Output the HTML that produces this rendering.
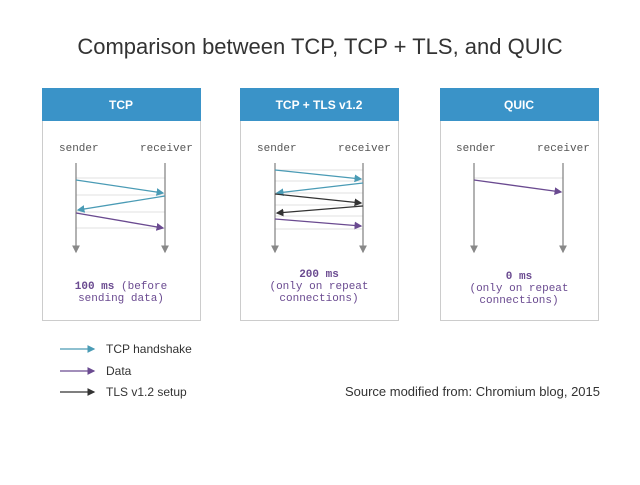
<!DOCTYPE html>
<html><head><style>body{margin:0;background:#fff}</style></head><body>
<svg width="640" height="480" xmlns="http://www.w3.org/2000/svg" font-family="Liberation Sans, sans-serif">
<defs>
<marker id="mt" markerWidth="6" markerHeight="6" refX="5" refY="3" orient="auto"><path d="M0,0L6,3L0,6z" fill="#4a9bb5"/></marker>
<marker id="mp" markerWidth="6" markerHeight="6" refX="5" refY="3" orient="auto"><path d="M0,0L6,3L0,6z" fill="#6a4a90"/></marker>
<marker id="md" markerWidth="6" markerHeight="6" refX="5" refY="3" orient="auto"><path d="M0,0L6,3L0,6z" fill="#333"/></marker>
<marker id="mg" markerWidth="6" markerHeight="6" refX="5" refY="3" orient="auto"><path d="M0,0L6,3L0,6z" fill="#888"/></marker>
</defs>
<rect width="640" height="480" fill="#fff"/>
<text x="320" y="54" text-anchor="middle" font-size="22" fill="#333">Comparison between TCP, TCP + TLS, and QUIC</text>
<g stroke="#ccc" fill="#fff">
<rect x="42.5" y="88.5" width="158" height="232"/>
<rect x="240.5" y="88.5" width="158" height="232"/>
<rect x="440.5" y="88.5" width="158" height="232"/>
</g>
<g fill="#3a93c8">
<rect x="42" y="88" width="159" height="33"/>
<rect x="240" y="88" width="159" height="33"/>
<rect x="440" y="88" width="159" height="33"/>
</g>
<g fill="#fff" font-size="12" font-weight="bold" text-anchor="middle">
<text x="121" y="109">TCP</text><text x="319" y="109">TCP + TLS v1.2</text><text x="519" y="109">QUIC</text>
</g>
<g font-family="Liberation Mono, monospace" font-size="11" fill="#555">
<text x="59" y="151">sender</text><text x="140" y="151">receiver</text>
<text x="257" y="151">sender</text><text x="338" y="151">receiver</text>
<text x="456" y="151">sender</text><text x="537" y="151">receiver</text>
</g>
<g stroke="#e2e2e2">
<line x1="76" y1="178" x2="165" y2="178"/><line x1="76" y1="195" x2="165" y2="195"/><line x1="76" y1="212" x2="165" y2="212"/><line x1="76" y1="228" x2="165" y2="228"/>
<line x1="275" y1="170" x2="363" y2="170"/><line x1="275" y1="181" x2="363" y2="181"/><line x1="275" y1="193" x2="363" y2="193"/><line x1="275" y1="205" x2="363" y2="205"/><line x1="275" y1="216" x2="363" y2="216"/><line x1="275" y1="229" x2="363" y2="229"/>
<line x1="474" y1="178" x2="563" y2="178"/>
</g>
<g stroke="#888" stroke-width="1.3" marker-end="url(#mg)">
<line x1="76" y1="163" x2="76" y2="252"/><line x1="165" y1="163" x2="165" y2="252"/>
<line x1="275" y1="163" x2="275" y2="252"/><line x1="363" y1="163" x2="363" y2="252"/>
<line x1="474" y1="163" x2="474" y2="252"/><line x1="563" y1="163" x2="563" y2="252"/>
</g>
<g stroke-width="1.3">
<line x1="76" y1="180" x2="163" y2="193" stroke="#4a9bb5" marker-end="url(#mt)"/>
<line x1="165" y1="196" x2="78" y2="210" stroke="#4a9bb5" marker-end="url(#mt)"/>
<line x1="76" y1="213" x2="163" y2="228" stroke="#6a4a90" marker-end="url(#mp)"/>
<line x1="275" y1="170" x2="361" y2="179" stroke="#4a9bb5" marker-end="url(#mt)"/>
<line x1="363" y1="183" x2="277" y2="193" stroke="#4a9bb5" marker-end="url(#mt)"/>
<line x1="275" y1="194" x2="361" y2="203" stroke="#333" marker-end="url(#md)"/>
<line x1="363" y1="206" x2="277" y2="213" stroke="#333" marker-end="url(#md)"/>
<line x1="275" y1="219" x2="361" y2="226" stroke="#6a4a90" marker-end="url(#mp)"/>
<line x1="474" y1="180" x2="561" y2="192" stroke="#6a4a90" marker-end="url(#mp)"/>
</g>
<g font-family="Liberation Mono, monospace" font-size="11" fill="#6a4a90" text-anchor="middle">
<text x="121" y="289"><tspan font-weight="bold">100 ms</tspan> (before</text><text x="121" y="301">sending data)</text>
<text x="319" y="277" font-weight="bold">200 ms</text><text x="319" y="289">(only on repeat</text><text x="319" y="301">connections)</text>
<text x="519" y="279" font-weight="bold">0 ms</text><text x="519" y="291">(only on repeat</text><text x="519" y="303">connections)</text>
</g>
<g stroke-width="1.3">
<line x1="60" y1="349" x2="94" y2="349" stroke="#4a9bb5" marker-end="url(#mt)"/>
<line x1="60" y1="371" x2="94" y2="371" stroke="#6a4a90" marker-end="url(#mp)"/>
<line x1="60" y1="392" x2="94" y2="392" stroke="#333" marker-end="url(#md)"/>
</g>
<g font-size="12" fill="#333">
<text x="106" y="353">TCP handshake</text><text x="106" y="375">Data</text><text x="106" y="396">TLS v1.2 setup</text>
<text x="600" y="396" text-anchor="end" font-size="13">Source modified from:  Chromium blog, 2015</text>
</g>
</svg>
</body></html>
